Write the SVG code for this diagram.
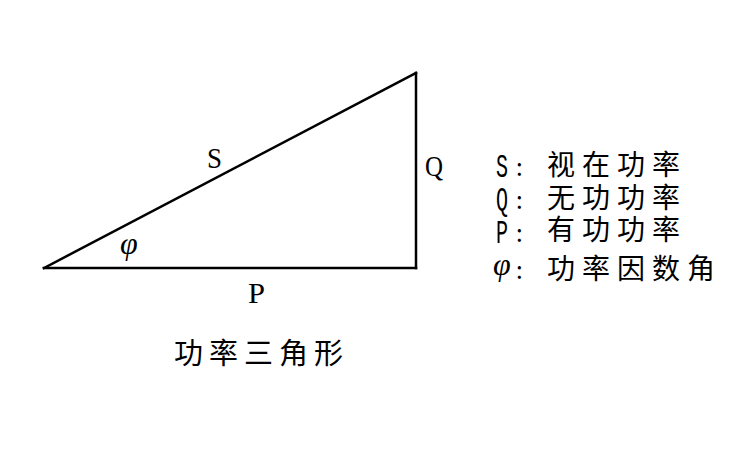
<svg xmlns="http://www.w3.org/2000/svg" width="750" height="450" viewBox="0 0 750 450">
<style>
.cjk{font-family:"Noto Sans CJK SC","Noto Sans CJK JP",sans-serif;fill:#000}
.lg{font-size:28px;letter-spacing:7px}
.tt{font-size:29px;letter-spacing:6px}
.ser{font-family:"Liberation Serif",serif;font-size:30px;fill:#000}
.phi{font-family:"Liberation Serif",serif;font-style:italic;font-size:32px;fill:#000}
.mono{font-family:"Liberation Mono",monospace;font-size:34px;fill:#000}
.edge{stroke:#000;stroke-width:2.5;fill:none;stroke-linecap:square}
</style>
<rect width="750" height="450" fill="#fff"/>
<g id="connectors">
<line class="edge" x1="44" y1="268" x2="416" y2="73"/>
<line class="edge" x1="416" y1="73" x2="416" y2="268"/>
<line class="edge" x1="44" y1="268" x2="416" y2="268"/>
</g>
<g id="labels">
<text class="ser" x="207" y="168" textLength="15" lengthAdjust="spacingAndGlyphs">S</text>
<text class="ser" x="425" y="176" textLength="18" lengthAdjust="spacingAndGlyphs">Q</text>
<text class="ser" x="248" y="303" textLength="17" lengthAdjust="spacingAndGlyphs">P</text>
<text class="phi" x="120" y="254">φ</text>
</g>
<g id="legend">
<text class="mono" x="496" y="177" textLength="12" lengthAdjust="spacingAndGlyphs">S</text>
<text class="mono" x="496" y="210" textLength="12" lengthAdjust="spacingAndGlyphs">Q</text>
<text class="mono" x="496" y="243" textLength="12" lengthAdjust="spacingAndGlyphs">P</text>
<text class="phi" x="493" y="275">φ</text>
<text class="cjk" x="516" y="176" font-size="24">:</text>
<text class="cjk" x="516" y="209" font-size="24">:</text>
<text class="cjk" x="516" y="242" font-size="24">:</text>
<text class="cjk" x="516" y="279" font-size="24">:</text>
<text class="cjk lg" x="547" y="175">视在功率</text>
<text class="cjk lg" x="547" y="208">无功功率</text>
<text class="cjk lg" x="547" y="240">有功功率</text>
<text class="cjk lg" x="547" y="279">功率因数角</text>
</g>
<g id="title">
<text class="cjk tt" x="174" y="364">功率三角形</text>
</g>
</svg>
